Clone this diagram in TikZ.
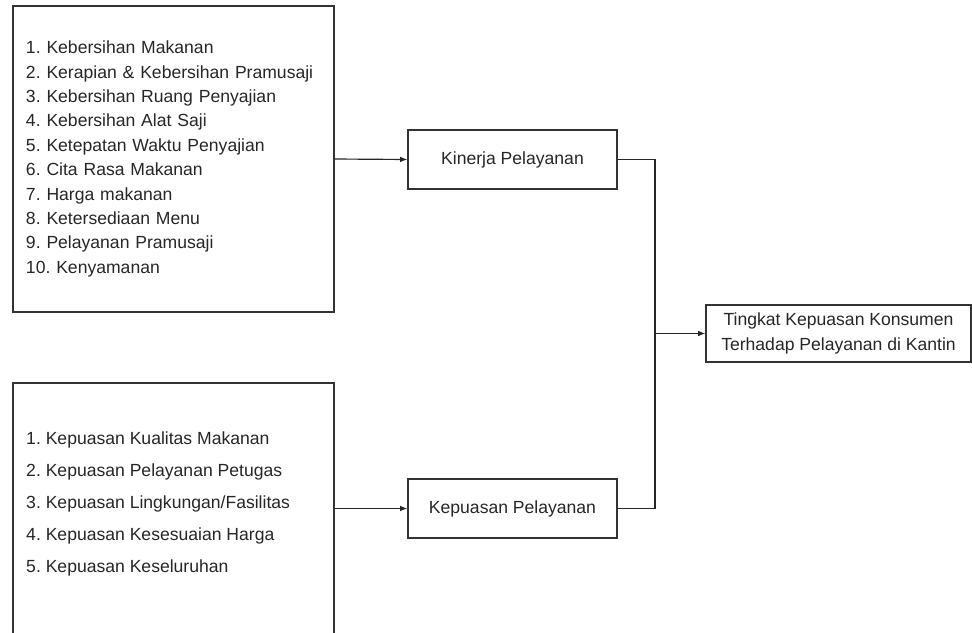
\documentclass[tikz,border=0pt]{standalone}
\usepackage{fontspec}
\setmainfont{Liberation Sans}
\usepackage{tikz}
\usetikzlibrary{arrows.meta,positioning,calc}

\begin{document}
\frenchspacing
\begin{tikzpicture}[
    kotak/.style={draw=black!80, line width=1pt, text=black!85},
    teks/.style={text=black!85, align=left, font=\fontsize{15}{20.8}\selectfont},
    garis/.style={draw=black!85, line width=1pt},
    panah/.style={garis, -{Latex[length=2.2mm,width=1.7mm]}}]
  \useasboundingbox (0,0) rectangle (29.16,-18.96);

  \node[kotak, teks, minimum width=9.63cm, minimum height=9.18cm, text width=8.85cm, inner xsep=0.39cm] (atribut) at (5.205,-4.77) {%
    1. Kebersihan Makanan\\
    2. Kerapian \& Kebersihan Pramusaji\\
    3. Kebersihan Ruang Penyajian\\
    4. Kebersihan Alat Saji\\
    5. Ketepatan Waktu Penyajian\\
    6. Cita Rasa Makanan\\
    7. Harga makanan\\
    8. Ketersediaan Menu\\
    9. Pelayanan Pramusaji\\
    10. Kenyamanan};

  \node[kotak, minimum width=9.63cm, minimum height=8.31cm] (kepuasanbox) at (5.205,-15.645) {};
  \node[teks, anchor=west, inner sep=0pt, font=\fontsize{15}{27.3}\selectfont] (daftar) at (0.78,-15.105) {%
    1. Kepuasan Kualitas Makanan\\
    2. Kepuasan Pelayanan Petugas\\
    3. Kepuasan Lingkungan/Fasilitas\\
    4. Kepuasan Kesesuaian Harga\\
    5. Kepuasan Keseluruhan};

  \node[kotak, teks, align=center, minimum width=6.27cm, minimum height=1.77cm] (kinerja) at (15.375,-4.785) {Kinerja Pelayanan};
  \node[kotak, teks, align=center, minimum width=6.27cm, minimum height=1.77cm] (kepuasan) at (15.375,-15.255) {Kepuasan Pelayanan};
  \node[kotak, teks, align=center, minimum width=7.95cm, minimum height=1.71cm] (tingkat) at (25.155,-10.005) {Tingkat Kepuasan Konsumen\\Terhadap Pelayanan di Kantin};

  \coordinate (sambung) at (19.65,-10.005);

  \draw[panah] (atribut.east) -- (kinerja.west);
  \draw[panah] (kepuasan.west -| kepuasanbox.east) -- (kepuasan.west);
  \draw[garis] (kinerja.east) -| (sambung) |- (kepuasan.east);
  \draw[panah] (sambung) -- (tingkat.west);
\end{tikzpicture}
\end{document}
